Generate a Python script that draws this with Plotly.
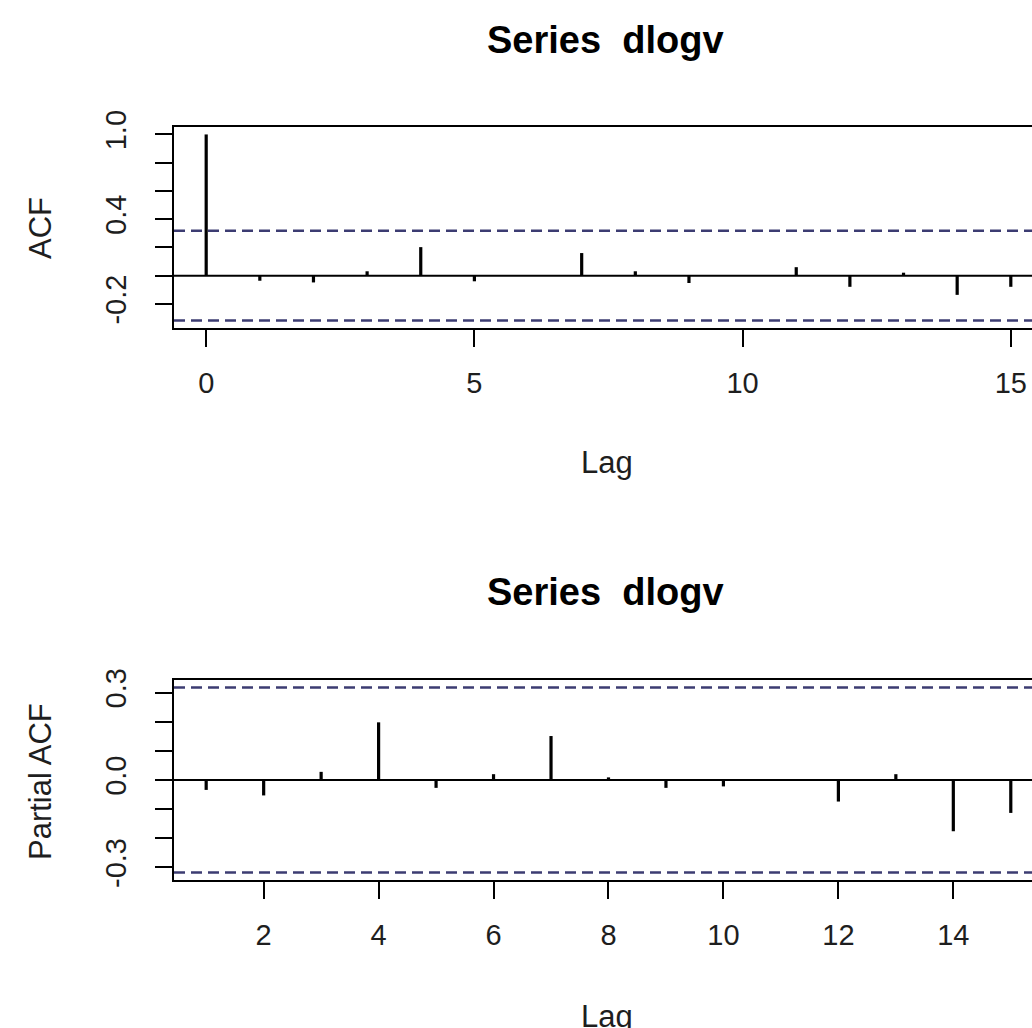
import plotly.graph_objects as go

# ---- data ----
acf_lags = [0, 1, 2, 3, 4, 5, 6, 7, 8, 9, 10, 11, 12, 13, 14, 15]
acf_vals = [1.0, -0.036, -0.048, 0.031, 0.202, -0.040, 0.004, 0.160, 0.031, -0.052,
            0.002, 0.060, -0.079, 0.021, -0.136, -0.079]
pacf_lags = [1, 2, 3, 4, 5, 6, 7, 8, 9, 10, 11, 12, 13, 14, 15]
pacf_vals = [-0.034, -0.053, 0.028, 0.198, -0.027, 0.020, 0.151, 0.009, -0.027,
             -0.022, 0.002, -0.074, 0.020, -0.176, -0.113]
conf_limit = 0.318

title_text = "Series\u00a0 dlogv"
acf_ylabel = "ACF"
pacf_ylabel = "Partial ACF"
xlabel = "Lag"

acf_yticks = [-0.2, 0.0, 0.2, 0.4, 0.6, 0.8, 1.0]
acf_yticktext = ["-0.2", "", "", "0.4", "", "", "1.0"]
acf_xticks = [0, 5, 10, 15]
pacf_yticks = [-0.3, -0.2, -0.1, 0.0, 0.1, 0.2, 0.3]
pacf_yticktext = ["-0.3", "", "", "0.0", "", "", "0.3"]
pacf_xticks = [2, 4, 6, 8, 10, 12, 14]

W, H = 1032, 1028
FONT = "Liberation Sans, Arial, sans-serif"
CI_COLOR = "#3c3c72"
TXT = "#1e1e1e"


def spikes(lags, vals):
    xs, ys = [], []
    for l, v in zip(lags, vals):
        xs += [l, l, None]
        ys += [0, v, None]
    return xs, ys


fig = go.Figure()

ax, ay = spikes(acf_lags, acf_vals)
fig.add_trace(go.Scatter(x=ax, y=ay, mode="lines", line=dict(color="black", width=3.2),
                         xaxis="x", yaxis="y", hoverinfo="skip", showlegend=False))
px_, py_ = spikes(pacf_lags, pacf_vals)
fig.add_trace(go.Scatter(x=px_, y=py_, mode="lines", line=dict(color="black", width=3.2),
                         xaxis="x2", yaxis="y2", hoverinfo="skip", showlegend=False))

x0 = 174 / W
top_dom = [1 - 328 / H, 1 - 127 / H]
bot_dom = [1 - 880 / H, 1 - 680 / H]

axis_common = dict(showgrid=False, zeroline=False, showline=True, linecolor="black",
                   linewidth=2, ticks="outside", ticklen=17, tickwidth=1.5,
                   tickcolor="black", automargin=False,
                   tickfont=dict(family=FONT, size=29, color=TXT))

fig.update_layout(
    template="none",
    width=W, height=H, autosize=False,
    margin=dict(l=0, r=0, t=0, b=0, pad=0),
    paper_bgcolor="white", plot_bgcolor="white",
    showlegend=False,
    xaxis=dict(domain=[x0, 1], range=[-0.6, 15.395], anchor="y", mirror=True,
               tickmode="array", tickvals=acf_xticks, ticklabelstandoff=11, **axis_common),
    yaxis=dict(domain=top_dom, range=[-0.3707, 1.0527], anchor="x",
               tickmode="array", tickvals=acf_yticks, ticktext=acf_yticktext,
               tickangle=-90, ticklabelstandoff=17, **axis_common),
    xaxis2=dict(domain=[x0, 1], range=[0.44, 15.369], anchor="y2", mirror=True,
                tickmode="array", tickvals=pacf_xticks, ticklabelstandoff=11, **axis_common),
    yaxis2=dict(domain=bot_dom, range=[-0.3434, 0.3434], anchor="x2",
                tickmode="array", tickvals=pacf_yticks, ticktext=pacf_yticktext,
                tickangle=-90, ticklabelstandoff=17, **axis_common),
)

shapes = []
for xr, yr in (("x", "y"), ("x2", "y2")):
    shapes.append(dict(type="line", xref=f"{xr} domain", yref=yr, x0=0, x1=1, y0=0, y1=0,
                       line=dict(color="black", width=2)))
    for s in (1, -1):
        shapes.append(dict(type="line", xref=f"{xr} domain", yref=yr, x0=0, x1=1,
                           y0=s * conf_limit, y1=s * conf_limit,
                           line=dict(color=CI_COLOR, width=2.5, dash="11px,6px")))
fig.update_layout(shapes=shapes)


def pxy(x, y):
    return x / W, 1 - y / H


annots = []
for yc in (40, 592):
    x, y = pxy(605, yc)
    annots.append(dict(text=f"<b>{title_text}</b>", x=x, y=y, xref="paper", yref="paper",
                       xanchor="center", yanchor="middle", showarrow=False,
                       font=dict(family=FONT, size=38, color="black")))
for yc in (463, 1016):
    x, y = pxy(607, yc)
    annots.append(dict(text=xlabel, x=x, y=y, xref="paper", yref="paper",
                       xanchor="center", yanchor="middle", showarrow=False,
                       font=dict(family=FONT, size=31, color=TXT)))
for txt, yc in ((acf_ylabel, 228), (pacf_ylabel, 782)):
    x, y = pxy(40, yc)
    annots.append(dict(text=txt, x=x, y=y, xref="paper", yref="paper", textangle=-90,
                       xanchor="center", yanchor="middle", showarrow=False,
                       font=dict(family=FONT, size=31, color=TXT)))
fig.update_layout(annotations=annots)

fig.write_html(
    "out.html",
    config={"displayModeBar": False, "responsive": False},
    post_script="document.body.style.margin='0';document.body.style.overflow='hidden';",
)
